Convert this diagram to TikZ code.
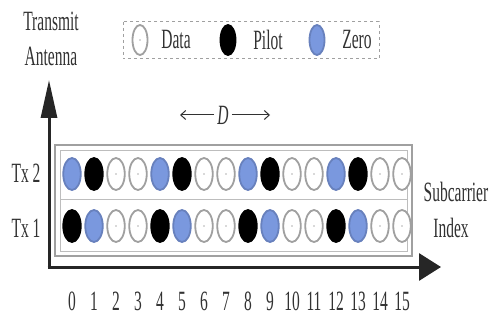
\documentclass[tikz,border=0pt]{standalone}
\usepackage{fontspec}
\setmainfont{Liberation Serif}
\usetikzlibrary{shapes.geometric,arrows.meta}
\newcommand{\tallt}[1]{\scalebox{1}[1.8]{#1}}
\definecolor{zeroblue}{RGB}{122,152,222}
\definecolor{ringgray}{RGB}{160,160,160}
\definecolor{txtgray}{RGB}{50,50,50}
\begin{document}
\begin{tikzpicture}[x=1pt,y=-1pt,
  cell/.style={ellipse, minimum width=17.5pt, minimum height=32pt, inner sep=0pt, line width=1.8pt},
  datac/.style={cell, draw=ringgray, fill=white,
    path picture={\fill[ringgray!80] (path picture bounding box.center) circle (0.9pt);}},
  pilotc/.style={cell, draw=black, fill=black},
  zeroc/.style={cell, draw=zeroblue!85!black, fill=zeroblue},
  lbl/.style={font=\fontsize{15.5}{15.5}\selectfont, inner sep=0pt, text=txtgray},
  axisline/.style={line width=3pt, draw=black!85},
  frame/.style={draw=ringgray, line width=1.5pt},
  innerframe/.style={draw=ringgray!70, line width=0.8pt},
  legendbox/.style={draw=ringgray, line width=1pt, dashed},
  darrow/.style={draw=txtgray, line width=1pt, -{Straight Barb[length=5pt,width=9pt]}}
]
\useasboundingbox (0,0) rectangle (489,320);
\fill[white] (0,0) rectangle (489,320);

% legend
\draw[legendbox] (123,22) rectangle (379,59);
\node[datac, minimum width=15pt, minimum height=30pt] (ldata) at (140,40) {};
\node[lbl] (tdata) at (176,40) {\tallt{Data}};
\node[pilotc, minimum width=15pt, minimum height=30pt] (lpilot) at (228,40) {};
\node[lbl] (tpilot) at (268,40) {\tallt{Pilot}};
\node[zeroc, minimum width=15pt, minimum height=30pt] (lzero) at (317,40) {};
\node[lbl] (tzero) at (357,40) {\tallt{Zero}};

% axis labels
\node[lbl] (trans) at (51,21) {\tallt{Transmit}};
\node[lbl] (ant) at (51,56) {\tallt{Antenna}};
\node[lbl] (sub) at (456,192) {\tallt{Subcarrier}};
\node[lbl] (idx) at (451,228) {\tallt{Index}};
\node[lbl] (tx2) at (26,173) {\tallt{Tx 2}};
\node[lbl] (tx1) at (26,228) {\tallt{Tx 1}};

% D spacing
\node[lbl, font=\fontsize{15.5}{15.5}\selectfont\itshape] (dd) at (223,115) {\tallt{D}};
\coordinate (dl) at (180,115);
\coordinate (dr) at (270,115);
\draw[darrow] ([xshift=-3pt]dd.west) -- (dl);
\draw[darrow] ([xshift=3pt]dd.east) -- (dr);

% frames
\draw[frame] (55,145) rectangle (412,256);
\draw[innerframe] (60,150) rectangle (407,251);
\draw[innerframe] (60,199) -- (407,199);

% cells
\foreach \i in {0,...,15}{
  \pgfmathsetmacro\xx{72+22*\i}
  \pgfmathtruncatemacro\m{mod(\i,4)}
  \ifcase\m \def\stA{zeroc}\def\stB{pilotc}\or \def\stA{pilotc}\def\stB{zeroc}\else \def\stA{datac}\def\stB{datac}\fi
  \node[\stA] (t2-\i) at (\xx,174) {};
  \node[\stB] (t1-\i) at (\xx,226) {};
  \node[lbl] (n-\i) at (\xx,301) {\tallt{\i}};
}

% axes
\coordinate (o) at (49,267);
\coordinate (yt) at (49,80);
\coordinate (xt) at (441,267);
\draw[axisline, -{Triangle[length=38pt,width=16pt]}] ([yshift=1.5pt]o) -- (yt);
\draw[axisline, -{Triangle[length=22pt,width=27pt]}] ([xshift=-1.5pt]o) -- (xt);
\end{tikzpicture}
\end{document}
